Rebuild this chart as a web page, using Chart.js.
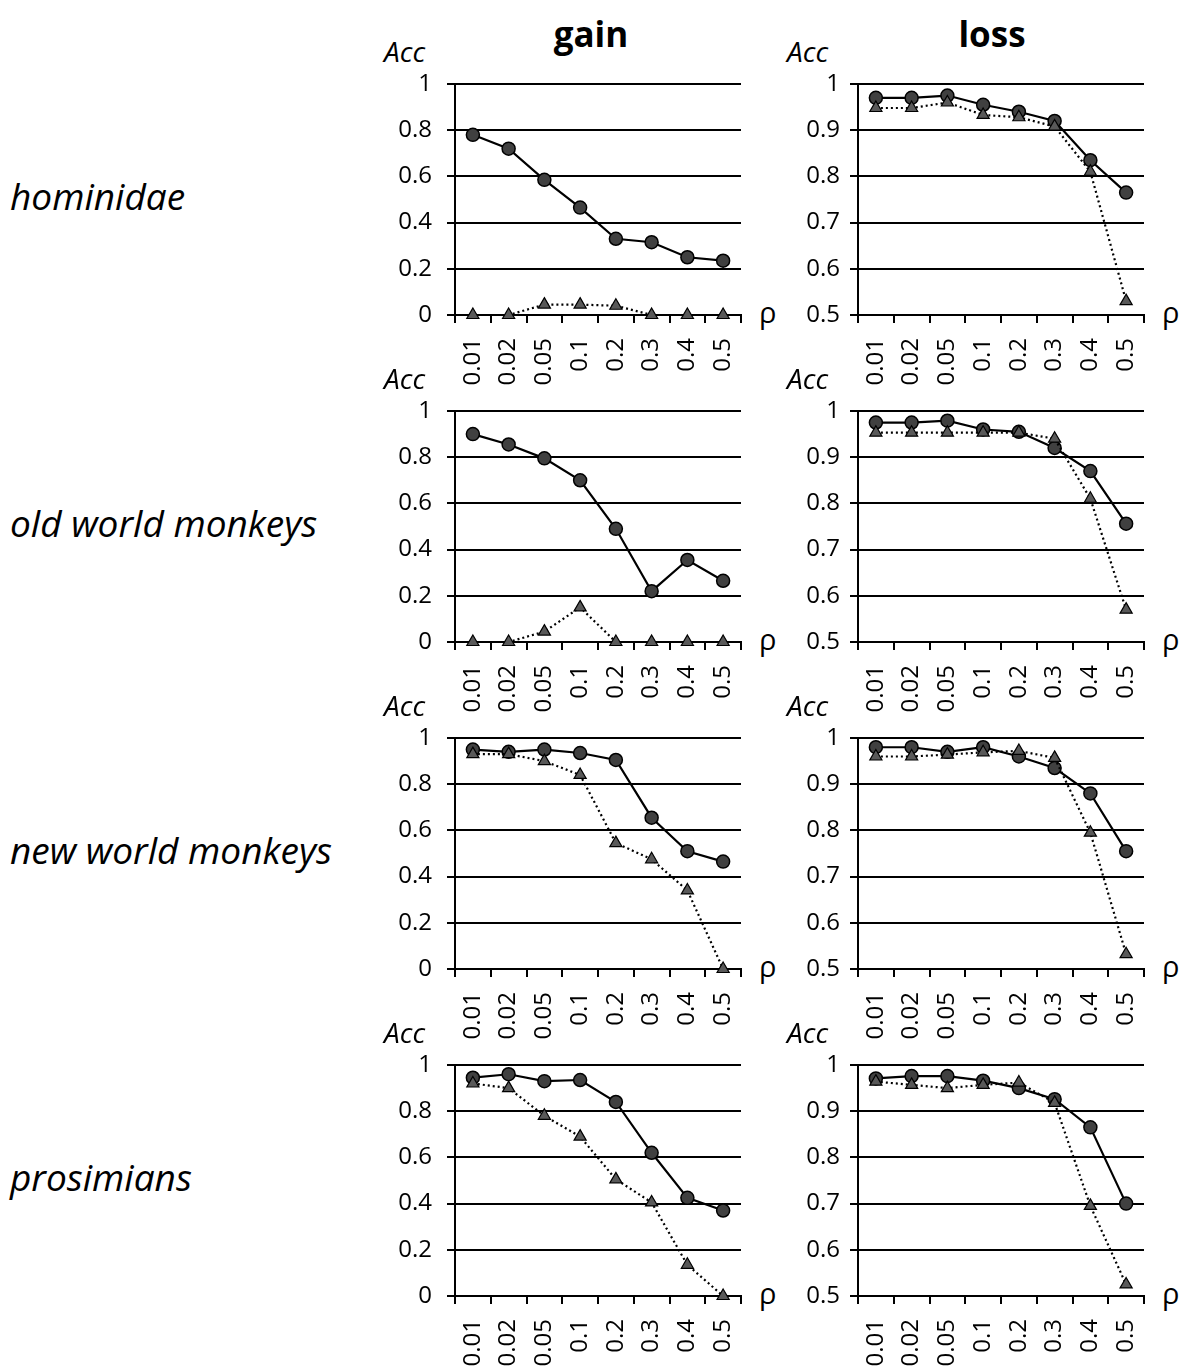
<!DOCTYPE html>
<html>
<head>
<meta charset="utf-8">
<script src="https://cdn.jsdelivr.net/npm/chart.js@4.4.1/dist/chart.umd.min.js"></script>
<style>
  body { margin: 0; background: #fff; }
  #page { position: relative; width: 1184px; height: 1369px; background: #fff; overflow: hidden;
          font-family: "Open Sans", sans-serif; color: #000; }
  .lbl { position: absolute; white-space: nowrap; line-height: 1; }
  canvas { position: absolute; }
</style>
</head>
<body>
<div id="page"></div>
<script>
// x categories (rho) and row names
const rhoLabels = ['0.01', '0.02', '0.05', '0.1', '0.2', '0.3', '0.4', '0.5'];
const groups = ['hominidae', 'old world monkeys', 'new world monkeys', 'prosimians'];

// gain: circle series (solid) and triangle series (dotted)
const gainHominidaeCirc = [0.78, 0.72, 0.585, 0.465, 0.33, 0.315, 0.25, 0.235];
const gainHominidaeTri  = [0, 0, 0.045, 0.045, 0.04, 0, 0, 0];
const gainOldWorldCirc  = [0.90, 0.855, 0.795, 0.70, 0.49, 0.22, 0.355, 0.265];
const gainOldWorldTri   = [0, 0, 0.045, 0.15, 0, 0, 0, 0];
const gainNewWorldCirc  = [0.95, 0.94, 0.95, 0.935, 0.905, 0.655, 0.51, 0.465];
const gainNewWorldTri   = [0.93, 0.93, 0.90, 0.84, 0.545, 0.475, 0.34, 0];
const gainProsimCirc    = [0.945, 0.96, 0.93, 0.935, 0.84, 0.62, 0.425, 0.37];
const gainProsimTri     = [0.92, 0.90, 0.78, 0.69, 0.505, 0.405, 0.135, 0];

// loss
const lossHominidaeCirc = [0.97, 0.97, 0.975, 0.955, 0.94, 0.92, 0.835, 0.765];
const lossHominidaeTri  = [0.948, 0.948, 0.96, 0.933, 0.928, 0.908, 0.81, 0.53];
const lossOldWorldCirc  = [0.975, 0.975, 0.979, 0.96, 0.955, 0.92, 0.87, 0.756];
const lossOldWorldTri   = [0.953, 0.953, 0.953, 0.953, 0.953, 0.94, 0.81, 0.57];
const lossNewWorldCirc  = [0.98, 0.98, 0.97, 0.98, 0.96, 0.935, 0.88, 0.755];
const lossNewWorldTri   = [0.96, 0.96, 0.964, 0.969, 0.972, 0.957, 0.795, 0.532];
const lossProsimCirc    = [0.971, 0.976, 0.976, 0.966, 0.95, 0.926, 0.865, 0.70];
const lossProsimTri     = [0.964, 0.957, 0.95, 0.957, 0.962, 0.918, 0.695, 0.525];

const gainTicks = [0, 0.2, 0.4, 0.6, 0.8, 1];
const lossTicks = [0.5, 0.6, 0.7, 0.8, 0.9, 1];

const panels = [
  [gainHominidaeCirc, gainHominidaeTri, lossHominidaeCirc, lossHominidaeTri],
  [gainOldWorldCirc,  gainOldWorldTri,  lossOldWorldCirc,  lossOldWorldTri],
  [gainNewWorldCirc,  gainNewWorldTri,  lossNewWorldCirc,  lossNewWorldTri],
  [gainProsimCirc,    gainProsimTri,    lossProsimCirc,    lossProsimTri]
];

// layout (px)
const rowTop = [84, 411, 738, 1065];
const plotH = 231, plotW = 286;
const axisX = [455, 858];
const yAxisW = 85, padTop = 16, xAxisH = 78, padRight = 12;

const page = document.getElementById('page');

function addText(txt, left, baseline, size, css) {
  const d = document.createElement('div');
  d.className = 'lbl';
  d.textContent = txt;
  d.style.fontSize = size + 'px';
  d.style.left = left + 'px';
  d.style.top = (baseline - 0.888 * size) + 'px';
  if (css) Object.assign(d.style, css);
  page.appendChild(d);
  return d;
}

Chart.defaults.font.family = '"Open Sans", sans-serif';
Chart.defaults.color = '#000';

// column titles
addText('gain', 491, 47, 35, { width: '200px', textAlign: 'center', fontWeight: 'bold' });
addText('loss', 892, 47, 35, { width: '200px', textAlign: 'center', fontWeight: 'bold' });

groups.forEach((g, r) => {
  addText(g, 10, rowTop[r] + 126, 37, { fontStyle: 'italic' });

  [0, 1].forEach(c => {
    const isGain = c === 0;
    const circ = panels[r][c * 2];
    const tri = panels[r][c * 2 + 1];
    const ticks = isGain ? gainTicks : lossTicks;

    addText('Acc', axisX[c] - 71, rowTop[r] - 22, 28, { fontStyle: 'italic' });
    addText('ρ', axisX[c] + plotW + 18, rowTop[r] + plotH + 8, 29);

    const cv = document.createElement('canvas');
    const w = yAxisW + plotW + padRight, h = padTop + plotH + xAxisH;
    cv.width = w; cv.height = h;
    cv.style.width = w + 'px'; cv.style.height = h + 'px';
    cv.style.left = (axisX[c] - yAxisW) + 'px';
    cv.style.top = (rowTop[r] - padTop) + 'px';
    page.appendChild(cv);

    new Chart(cv, {
      type: 'line',
      data: {
        labels: rhoLabels,
        datasets: [
          { // triangles, dotted (index 0 -> drawn on top)
            data: tri, borderColor: '#000', borderWidth: 2.2, borderDash: [2, 3],
            pointStyle: 'triangle', pointRadius: 7, pointBackgroundColor: '#595959',
            pointBorderColor: '#000', pointBorderWidth: 1.2, tension: 0, clip: false
          },
          { // circles, solid
            data: circ, borderColor: '#000', borderWidth: 2.2,
            pointStyle: 'circle', pointRadius: 6.5, pointBackgroundColor: '#404040',
            pointBorderColor: '#000', pointBorderWidth: 1.5, tension: 0, clip: false
          }
        ]
      },
      options: {
        responsive: false,
        animation: false,
        events: [],
        layout: { padding: { top: padTop, right: padRight, left: 0, bottom: 0 } },
        plugins: { legend: { display: false }, tooltip: { enabled: false } },
        scales: {
          x: {
            offset: true,
            grid: { offset: true, drawOnChartArea: false, drawTicks: true, tickLength: 8, color: '#000', lineWidth: 2 },
            border: { display: true, color: '#000', width: 2 },
            ticks: { autoSkip: false, minRotation: 90, maxRotation: 90, padding: 15, font: { size: 24 } },
            afterFit: s => { s.height = xAxisH; s.paddingLeft = 0; s.paddingRight = 0; }
          },
          y: {
            min: ticks[0], max: ticks[ticks.length - 1],
            afterBuildTicks: s => { s.ticks = ticks.map(v => ({ value: v })); },
            grid: { drawTicks: true, tickLength: 8, color: '#000', lineWidth: 2 },
            border: { display: true, color: '#000', width: 2 },
            ticks: { padding: isGain ? 15 : 10, font: { size: 24 }, callback: v => String(v) },
            afterFit: s => { s.width = yAxisW; s.paddingTop = 0; s.paddingBottom = 0; }
          }
        }
      }
    });
  });
});
</script>
</body>
</html>
